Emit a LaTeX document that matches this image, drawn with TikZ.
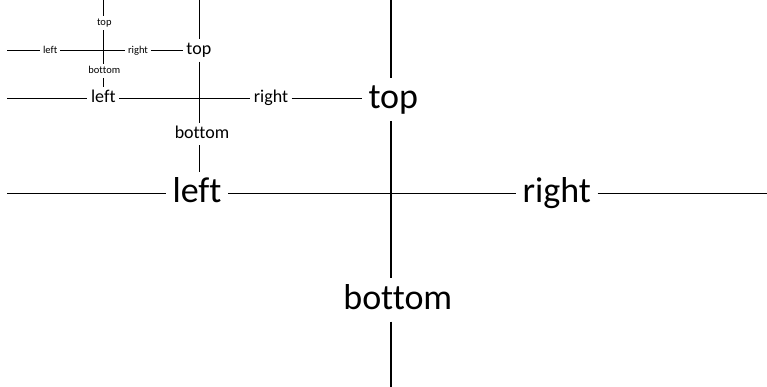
\documentclass[tikz,border=0pt]{standalone}
\usepackage{fontspec}
\setmainfont[Ligatures={NoCommon}]{Carlito}
\begin{document}
\begin{tikzpicture}[x=1pt,y=-1pt,line width=1.2pt,
  lvla/.style={font=\fontsize{36}{40}\selectfont,text height=27pt,text depth=9pt,inner xsep=6pt,inner ysep=3pt},
  lvlb/.style={font=\fontsize{18}{20}\selectfont,text height=13.5pt,text depth=4.5pt,inner xsep=3pt,inner ysep=1.5pt},
  lvlc/.style={font=\fontsize{10.5}{12}\selectfont,text height=7.8pt,text depth=2.6pt,inner xsep=2.3pt,inner ysep=1pt},
  wire/.style={draw=black,line width=1.2pt}]
\useasboundingbox (0,0) rectangle (767,387);
\coordinate (topedge) at (0,0);
\coordinate (botedge) at (0,387);
\coordinate (leftedge) at (7,0);
\coordinate (rightedge) at (767,0);
% level 1
\coordinate (C1) at (391,193.3);
\node[lvla] (T1) at (393.3,99.2) {top};
\node[lvla] (B1) at (397.8,300) {bottom};
\node[lvla] (L1) at (197,193.3) {left};
\node[lvla] (R1) at (556.7,193.3) {right};
\draw[wire] (leftedge |- C1) -- (L1.west);
\draw[wire] (L1.east) -- (R1.west);
\draw[wire] (R1.east) -- (rightedge |- C1);
\draw[wire] (C1 |- topedge) -- (C1 |- T1.north);
\draw[wire] (C1 |- T1.south) -- (C1 |- B1.north);
\draw[wire] (C1 |- B1.south) -- (C1 |- botedge);
% level 2
\coordinate (C2) at (199.3,98.3);
\node[lvlb] (T2) at (198.8,50.5) {top};
\node[lvlb] (B2) at (202,134.2) {bottom};
\node[lvlb] (L2) at (103.3,98.3) {left};
\node[lvlb] (R2) at (271,98.3) {right};
\draw[wire] (leftedge |- C2) -- (L2.west);
\draw[wire] (L2.east) -- (R2.west);
\draw[wire] (R2.east) -- (T1.west |- C2);
\draw[wire] (C2 |- topedge) -- (C2 |- T2.north);
\draw[wire] (C2 |- T2.south) -- (C2 |- B2.north);
\draw[wire] (C2 |- B2.south) -- (C2 |- L1.north);
% level 3
\coordinate (C3) at (103.3,50.5);
\node[lvlc] (T3) at (104.3,23.3) {top};
\node[lvlc] (B3) at (104.3,71) {bottom};
\node[lvlc] (L3) at (50.2,50.5) {left};
\node[lvlc] (R3) at (138,50.5) {right};
\draw[wire] (leftedge |- C3) -- (L3.west);
\draw[wire] (L3.east) -- (R3.west);
\draw[wire] (R3.east) -- (T2.west |- C3);
\draw[wire] (C3 |- topedge) -- (C3 |- T3.north);
\draw[wire] (C3 |- T3.south) -- (C3 |- B3.north);
\draw[wire] (C3 |- B3.south) -- (C3 |- L2.north);
\end{tikzpicture}
\end{document}
